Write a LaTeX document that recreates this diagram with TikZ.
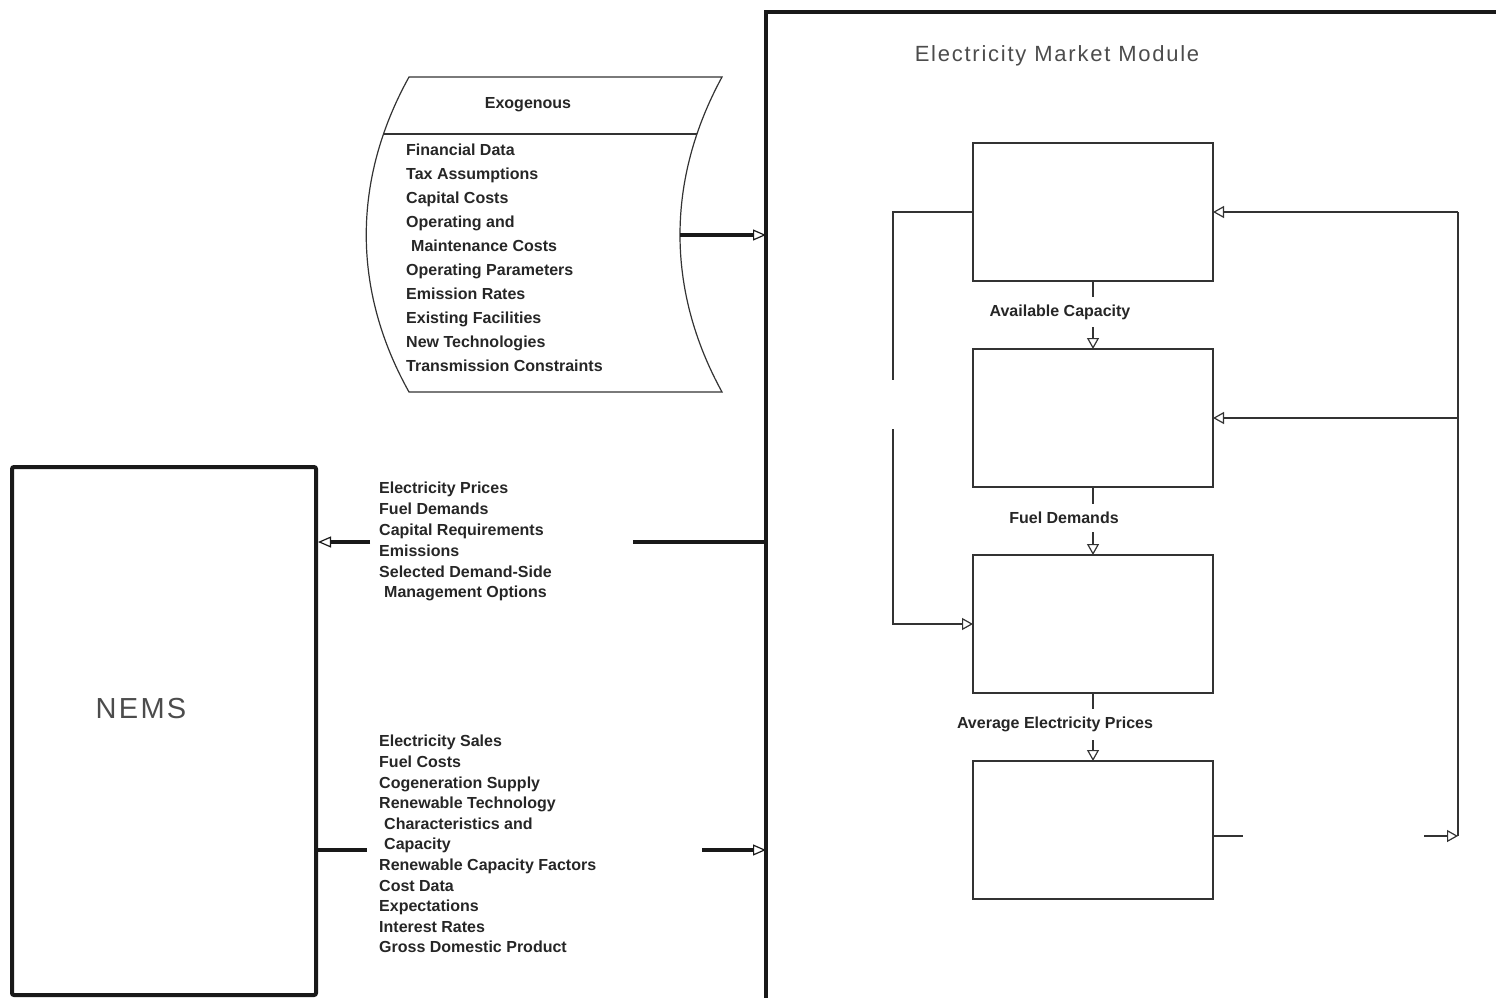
\documentclass[tikz,border=0pt]{standalone}
\usepackage{fontspec}
\setmainfont{Liberation Sans}
\newfontfamily\outlinefont[LetterSpace=8]{Liberation Sans}
\usetikzlibrary{arrows.meta, positioning}

\begin{document}
\begin{tikzpicture}[
        x=1pt, y=-1pt,
        node distance=68pt,
        block/.style={draw=black!80, line width=1.2pt, minimum width=240pt,
            minimum height=138pt, inner sep=0pt, outer sep=0pt},
        sysbox/.style={draw=black!90, line width=4pt, rounded corners=2pt, inner sep=0pt},
        heavy/.style={line width=4pt, black!90},
        heavyarr/.style={heavy, -{Triangle[open, length=13pt, width=11pt, line width=1.2pt]}},
        link/.style={line width=1.2pt, black!80},
        linkarr/.style={link, -{Triangle[open, length=11pt, width=12pt, line width=1.2pt]}},
        lbl/.style={font=\bfseries\fontsize{16}{20}\selectfont, text=black!85},
        gaplbl/.style={lbl, fill=white, inner xsep=2pt, inner ysep=8pt},
        lst/.style={font=\bfseries\fontsize{16}{#1}\selectfont, align=left,
            inner sep=0pt, anchor=north west, text=black!85},
        ttl/.style={font=\outlinefont\fontsize{#1}{#1}\selectfont, text=black!70}
    ]
        \useasboundingbox (0,0) rectangle (1496,998);

        % module frame
        \draw[heavy] (766,1004) -- (766,12) -- (1502,12);
        \node[ttl=22] (emm) at (1057,56) {Electricity Market Module};

        % submodules
        \node[block, anchor=north west] (b1) at (973,143) {};
        \node[block, below=of b1] (b2) {};
        \node[block, below=of b2] (b3) {};
        \node[block, below=of b3] (b4) {};

        \draw[linkarr] (b1) -- node[gaplbl, xshift=-33pt, yshift=3pt]{Available Capacity} (b2);
        \draw[linkarr] (b2) -- node[gaplbl, xshift=-29pt, yshift=3pt]{Fuel Demands} (b3);
        \draw[linkarr] (b3) -- node[gaplbl, xshift=-38pt, yshift=3pt]{Average Electricity Prices} (b4);

        % left loop
        \coordinate (lgapA) at (893,380);
        \coordinate (lgapB) at (893,429);
        \draw[link] (b1.west) -| (lgapA);
        \draw[linkarr] (lgapB) |- (b3.west);

        % right loop
        \coordinate (rbus) at (1458,836);
        \coordinate (rgapA) at (1243,836);
        \coordinate (rgapB) at (1424,836);
        \draw[link] (b4.east |- rgapA) -- (rgapA);
        \draw[linkarr] (rgapB) -- (rbus);
        \draw[link] (rbus) -- (rbus |- b1.east);
        \draw[linkarr] (rbus |- b1.east) -- (b1.east);
        \draw[linkarr] (rbus |- b2.east) -- (b2.east);

        % exogenous data
        \draw[link] (409,77) -- (722,77) .. controls (666,180) and (666,290) .. (722,392)
            -- (409,392) .. controls (352,290) and (352,180) .. (409,77) -- cycle;
        \draw[link] (384,134) -- (697,134);
        \node[lbl] (exo) at (528,105) {Exogenous};
        \node[lst=24] (exolist) at (406,144) {Financial Data\\Tax Assumptions\\Capital Costs\\
            Operating and\\\hspace*{5pt}Maintenance Costs\\Operating Parameters\\Emission Rates\\
            Existing Facilities\\New Technologies\\Transmission Constraints};
        \coordinate (exoR) at (680,235);
        \coordinate (emmA) at (766,235);
        \draw[heavyarr] (exoR) -- (emmA);

        % NEMS
        \node[sysbox, minimum width=304pt, minimum height=528pt] (nems) at (164,731) {};
        \node[ttl=29] (nemsname) at (141,709) {NEMS};

        % outputs to NEMS
        \node[lst=20.8] (outlist) at (379,482) {Electricity Prices\\Fuel Demands\\
            Capital Requirements\\Emissions\\Selected Demand-Side\\\hspace*{5pt}Management Options};
        \coordinate (outR) at (766,542);
        \coordinate (outA) at (633,542);
        \coordinate (outB) at (370,542);
        \draw[heavy] (outR) -- (outA);
        \draw[heavyarr] (outB) -- (nems.east |- outB);

        % inputs from NEMS
        \node[lst=20.6] (inlist) at (379,735) {Electricity Sales\\Fuel Costs\\Cogeneration Supply\\
            Renewable Technology\\\hspace*{5pt}Characteristics and\\\hspace*{5pt}Capacity\\
            Renewable Capacity Factors\\Cost Data\\Expectations\\Interest Rates\\
            Gross Domestic Product};
        \coordinate (inR) at (766,850);
        \coordinate (inA) at (367,850);
        \coordinate (inB) at (702,850);
        \draw[heavy] (nems.east |- inA) -- (inA);
        \draw[heavyarr] (inB) -- (inR);
    \end{tikzpicture}
\end{document}
